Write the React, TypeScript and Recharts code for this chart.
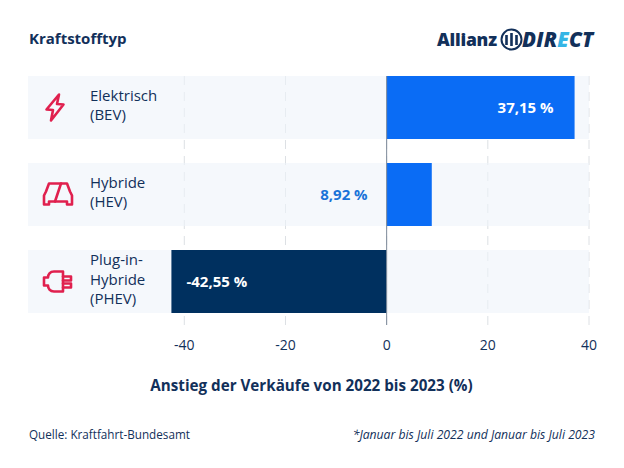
import { BarChart, Bar, Cell, XAxis, YAxis, CartesianGrid, ReferenceLine, LabelList } from 'recharts';

const categories = ['Elektrisch\n(BEV)', 'Hybride\n(HEV)', 'Plug-in-\nHybride\n(PHEV)'];
const values = [37.15, 8.92, -42.55];
const barColors = ['#0a6cf5', '#0a6cf5', '#00305f'];
const xTicks = [-40, -20, 0, 20, 40];
const icons = ['bolt', 'car', 'plug'];

const data = categories.map((category, i) => ({ category, value: values[i] }));

const font = '"Open Sans", sans-serif';
const ink = '#12305a';
const red = '#e0204e';

const Icon = ({ kind }: { kind: string }) => {
  const common = { fill: 'none', stroke: red, strokeWidth: 2.6, strokeLinejoin: 'round' as const, strokeLinecap: 'round' as const };
  if (kind === 'bolt') {
    return <path {...common} d="M4 -13 L-8.5 2 L-2 2.5 L-4 13 L8.5 -3 L2 -3.5 Z" />;
  }
  if (kind === 'car') {
    return (
      <g {...common}>
        <path d="M-9 -11 H9 L12 -3 L14 1 V10 H9 V7 H-9 V10 H-14 V1 L-12 -3 Z" />
        <path d="M3 -11 L-3 7" />
      </g>
    );
  }
  return (
    <g {...common}>
      <path d="M-4 -10 H5 V10 H-4 C-8 10 -10 7 -10 4 H-14 V-4 H-10 C-10 -7 -8 -10 -4 -10 Z" />
      <path d="M5 -5 H13 V-1 H5" />
      <path d="M5 2 H13 V6 H5" />
    </g>
  );
};

const CategoryTick = ({ y, index, payload }: any) => {
  const lines = String(payload.value).split('\n');
  const start = y - ((lines.length - 1) * 19.5) / 2;
  return (
    <g>
      <g transform={`translate(${index === 0 ? 55 : 58},${y})`}>
        <Icon kind={icons[index]} />
      </g>
      {lines.map((line, i) => (
        <text key={line} x={90} y={start + i * 19.5} dy={3} fontFamily={font} fontSize={15} fill={ink}>
          {line}
        </text>
      ))}
    </g>
  );
};

const ValueLabel = ({ x, y, width, height, value }: any) => {
  const left = Math.min(x, x + width);
  const right = Math.max(x, x + width);
  const text = `${String(value).replace('.', ',')} %`;
  const cy = y + height / 2 + 5;
  const common = { y: cy, fontFamily: font, fontSize: 15, fontWeight: 700 };
  if (value < 0) {
    return <text {...common} x={left + 15} fill="#fff">{text}</text>;
  }
  if (right - left > 100) {
    return <text {...common} x={right - 21} textAnchor="end" fill="#fff">{text}</text>;
  }
  return <text {...common} x={left - 19} textAnchor="end" fill="#1a73d8">{text}</text>;
};

export default function App() {
  return (
    <div style={{ position: 'absolute', left: 0, top: 0, width: 624, height: 468, background: '#fff', fontFamily: font, color: ink }}>
      <div style={{ position: 'absolute', left: 29, top: 28, fontSize: 15, fontWeight: 700 }}>Kraftstofftyp</div>

      <div style={{ position: 'absolute', left: 437, top: 27, fontSize: 17.5, fontWeight: 800, letterSpacing: -0.2 }}>Allianz</div>
      <svg style={{ position: 'absolute', left: 500, top: 28 }} width={23} height={23} viewBox="0 0 23 23">
        <circle cx={11.5} cy={11.5} r={10} fill="none" stroke={ink} strokeWidth={2} />
        <path d="M6.5 7 V17 M11.5 5 V18 M16.5 7 V17" stroke={ink} strokeWidth={2.6} fill="none" />
      </svg>
      <div style={{ position: 'absolute', left: 522, top: 25, fontSize: 20.5, fontWeight: 800, fontStyle: 'italic', letterSpacing: 0.2 }}>
        DIR<span style={{ color: '#35b5e5' }}>E</span>CT
      </div>

      <BarChart
        width={624}
        height={468}
        data={data}
        layout="vertical"
        margin={{ top: 76, right: 35, bottom: 113, left: 27 }}
        style={{ position: 'absolute', left: 0, top: 0 }}
      >
        <CartesianGrid horizontal={false} verticalValues={xTicks} stroke="#dde0e4" strokeDasharray="9 7" />
        <XAxis
          type="number"
          domain={[-70.9, 40]}
          ticks={xTicks}
          interval={0}
          height={30}
          axisLine={false}
          tickLine={false}
          tickMargin={9}
          tick={{ fontFamily: font, fontSize: 14, fill: ink }}
          label={{
            value: 'Anstieg der Verkäufe von 2022 bis 2023 (%)',
            position: 'bottom',
            offset: 25,
            dx: 3,
            style: { fontFamily: font, fontSize: 15.2, fontWeight: 700, fill: ink },
          }}
        />
        <YAxis
          type="category"
          dataKey="category"
          width={1}
          axisLine={false}
          tickLine={false}
          padding={{ top: -12, bottom: 0 }}
          interval={0}
          tick={<CategoryTick />}
        />
        <Bar dataKey="value" barSize={63} isAnimationActive={false} background={{ fill: '#eef3fa', fillOpacity: 0.6 }}>
          {data.map((d, i) => (
            <Cell key={d.category} fill={barColors[i]} />
          ))}
          <LabelList dataKey="value" content={<ValueLabel />} />
        </Bar>
        <ReferenceLine x={0} stroke="#7d8a99" strokeWidth={1} />
      </BarChart>

      <div style={{ position: 'absolute', left: 29, top: 426, fontSize: 11.7 }}>Quelle: Kraftfahrt-Bundesamt</div>
      <div style={{ position: 'absolute', right: 29, top: 426, fontSize: 12.2, fontStyle: 'italic' }}>
        *Januar bis Juli 2022 und Januar bis Juli 2023
      </div>
    </div>
  );
}
